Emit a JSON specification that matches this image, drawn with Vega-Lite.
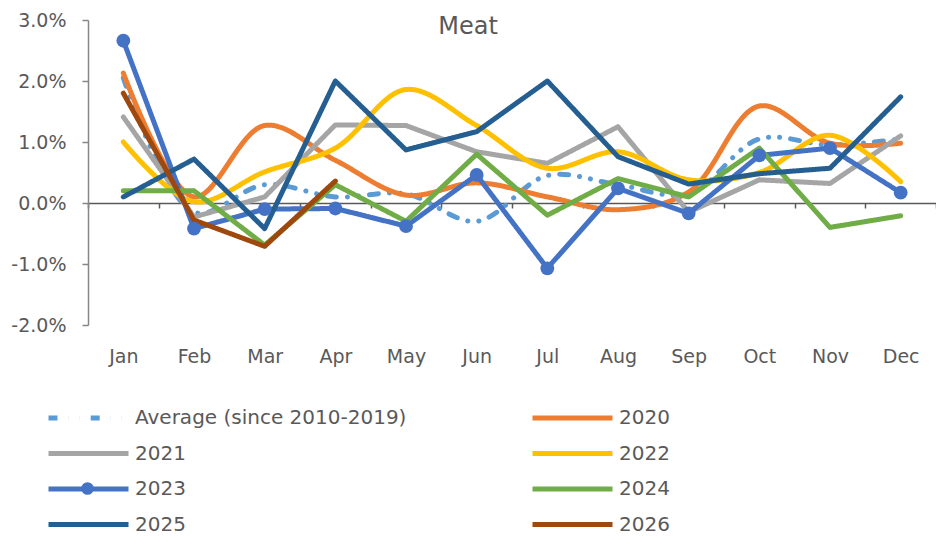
{
  "$schema": "https://vega.github.io/schema/vega-lite/v6.json",
  "width": 848,
  "height": 305,
  "autosize": {"type": "none"},
  "padding": {"left": 88, "top": 20, "right": 0, "bottom": 212},
  "background": "white",
  "title": {"text": "Meat", "fontSize": 24, "font": "DejaVu Sans", "color": "#595959", "fontWeight": "normal", "anchor": "middle", "dx": -44, "baseline": "alphabetic", "offset": -47},
  "config": {"view": {"stroke": null}, "font": "DejaVu Sans"},
  "data": {"values": [
    {"m":"Jan","s":"Average (since 2010-2019)","v":2.05},{"m":"Feb","s":"Average (since 2010-2019)","v":-0.15},{"m":"Mar","s":"Average (since 2010-2019)","v":0.3},{"m":"Apr","s":"Average (since 2010-2019)","v":0.1},{"m":"May","s":"Average (since 2010-2019)","v":0.15},{"m":"Jun","s":"Average (since 2010-2019)","v":-0.3},{"m":"Jul","s":"Average (since 2010-2019)","v":0.45},{"m":"Aug","s":"Average (since 2010-2019)","v":0.3},{"m":"Sep","s":"Average (since 2010-2019)","v":0.15},{"m":"Oct","s":"Average (since 2010-2019)","v":1.05},{"m":"Nov","s":"Average (since 2010-2019)","v":0.95},{"m":"Dec","s":"Average (since 2010-2019)","v":1.05},
    {"m":"Jan","s":"2020","v":2.13},{"m":"Feb","s":"2020","v":0.1},{"m":"Mar","s":"2020","v":1.27},{"m":"Apr","s":"2020","v":0.7},{"m":"May","s":"2020","v":0.13},{"m":"Jun","s":"2020","v":0.33},{"m":"Jul","s":"2020","v":0.1},{"m":"Aug","s":"2020","v":-0.11},{"m":"Sep","s":"2020","v":0.18},{"m":"Oct","s":"2020","v":1.59},{"m":"Nov","s":"2020","v":0.98},{"m":"Dec","s":"2020","v":0.98},
    {"m":"Jan","s":"2021","v":1.41},{"m":"Feb","s":"2021","v":-0.23},{"m":"Mar","s":"2021","v":0.1},{"m":"Apr","s":"2021","v":1.28},{"m":"May","s":"2021","v":1.27},{"m":"Jun","s":"2021","v":0.84},{"m":"Jul","s":"2021","v":0.65},{"m":"Aug","s":"2021","v":1.25},{"m":"Sep","s":"2021","v":-0.15},{"m":"Oct","s":"2021","v":0.38},{"m":"Nov","s":"2021","v":0.32},{"m":"Dec","s":"2021","v":1.1},
    {"m":"Jan","s":"2022","v":1.0},{"m":"Feb","s":"2022","v":0.02},{"m":"Mar","s":"2022","v":0.51},{"m":"Apr","s":"2022","v":0.9},{"m":"May","s":"2022","v":1.86},{"m":"Jun","s":"2022","v":1.27},{"m":"Jul","s":"2022","v":0.57},{"m":"Aug","s":"2022","v":0.84},{"m":"Sep","s":"2022","v":0.38},{"m":"Oct","s":"2022","v":0.5},{"m":"Nov","s":"2022","v":1.11},{"m":"Dec","s":"2022","v":0.35},
    {"m":"Jan","s":"2023","v":2.66},{"m":"Feb","s":"2023","v":-0.42},{"m":"Mar","s":"2023","v":-0.1},{"m":"Apr","s":"2023","v":-0.09},{"m":"May","s":"2023","v":-0.38},{"m":"Jun","s":"2023","v":0.46},{"m":"Jul","s":"2023","v":-1.07},{"m":"Aug","s":"2023","v":0.24},{"m":"Sep","s":"2023","v":-0.17},{"m":"Oct","s":"2023","v":0.78},{"m":"Nov","s":"2023","v":0.9},{"m":"Dec","s":"2023","v":0.17},
    {"m":"Jan","s":"2024","v":0.2},{"m":"Feb","s":"2024","v":0.2},{"m":"Mar","s":"2024","v":-0.69},{"m":"Apr","s":"2024","v":0.3},{"m":"May","s":"2024","v":-0.3},{"m":"Jun","s":"2024","v":0.8},{"m":"Jul","s":"2024","v":-0.2},{"m":"Aug","s":"2024","v":0.4},{"m":"Sep","s":"2024","v":0.1},{"m":"Oct","s":"2024","v":0.9},{"m":"Nov","s":"2024","v":-0.4},{"m":"Dec","s":"2024","v":-0.21},
    {"m":"Jan","s":"2025","v":0.1},{"m":"Feb","s":"2025","v":0.72},{"m":"Mar","s":"2025","v":-0.42},{"m":"Apr","s":"2025","v":2.0},{"m":"May","s":"2025","v":0.87},{"m":"Jun","s":"2025","v":1.17},{"m":"Jul","s":"2025","v":2.0},{"m":"Aug","s":"2025","v":0.76},{"m":"Sep","s":"2025","v":0.31},{"m":"Oct","s":"2025","v":0.48},{"m":"Nov","s":"2025","v":0.57},{"m":"Dec","s":"2025","v":1.74},
    {"m":"Jan","s":"2026","v":1.8},{"m":"Feb","s":"2026","v":-0.28},{"m":"Mar","s":"2026","v":-0.71},{"m":"Apr","s":"2026","v":0.36}
  ]},
  "encoding": {
    "x": {"field": "m", "type": "ordinal", "sort": ["Jan","Feb","Mar","Apr","May","Jun","Jul","Aug","Sep","Oct","Nov","Dec"],
      "scale": {"type": "band", "paddingInner": 0, "paddingOuter": 0},
      "axis": {"title": null, "orient": "bottom", "offset": -122, "tickBand": "extent", "tickSize": 5, "labelPadding": 139, "labelAngle": 0, "domainColor": "#595959", "tickColor": "#595959", "domainWidth": 1.5, "tickWidth": 1.5, "labelFontSize": 19, "labelColor": "#595959", "labelFont": "DejaVu Sans"}},
    "y": {"field": "v", "type": "quantitative", "scale": {"domain": [-2, 3], "nice": false, "zero": false},
      "axis": {"title": null, "values": [-2,-1,0,1,2,3], "labelExpr": "(datum.value < 0 ? '-' : '') + format(abs(datum.value),'.1f') + '%'", "grid": false, "domainColor": "#868686", "tickColor": "#868686", "domainWidth": 1.5, "tickWidth": 1.5, "tickSize": 6, "labelPadding": 16, "labelFontSize": 19, "labelColor": "#595959", "labelFont": "DejaVu Sans"}}
  },
  "layer": [
    {
      "transform": [{"filter": {"field": "s", "oneOf": ["Average (since 2010-2019)", "2020"]}}],
      "mark": {"type": "line", "interpolate": "catmull-rom", "strokeWidth": 5, "strokeCap": "round", "strokeJoin": "round"},
      "encoding": {
        "color": {"field": "s", "type": "nominal",
          "scale": {"domain": ["Average (since 2010-2019)","2020","2021","2022","2023","2024","2025","2026"], "range": ["#5B9BD5","#ED7D31","#A5A5A5","#FFC000","#4472C4","#70AD47","#255E91","#9E480E"]},
          "legend": {"title": null, "orient": "none", "direction": "horizontal", "legendX": -42, "legendY": 388, "columns": 2, "columnPadding": 123, "rowPadding": 15.5, "clipHeight": 20, "padding": 0, "symbolType": "stroke", "symbolSize": 6400, "symbolStrokeWidth": 5, "labelFontSize": 20, "labelColor": "#595959", "labelFont": "DejaVu Sans", "labelOffset": 4, "labelLimit": 400}},
        "strokeDash": {"field": "s", "type": "nominal",
          "scale": {"domain": ["Average (since 2010-2019)","2020","2021","2022","2023","2024","2025","2026"], "range": [[9,11,0.1,11,0.1,11],[1,0],[1,0],[1,0],[1,0],[1,0],[1,0],[1,0]]},
          "legend": {"title": null, "orient": "none", "direction": "horizontal", "legendX": -42, "legendY": 388, "columns": 2, "columnPadding": 123, "rowPadding": 15.5, "clipHeight": 20, "padding": 0, "symbolType": "stroke", "symbolSize": 6400, "symbolStrokeWidth": 5, "labelFontSize": 20, "labelColor": "#595959", "labelFont": "DejaVu Sans", "labelOffset": 4, "labelLimit": 400}}
      }
    },
    {
      "transform": [{"filter": {"field": "s", "equal": "2021"}}],
      "mark": {"type": "line", "strokeWidth": 5, "strokeCap": "round", "strokeJoin": "round"},
      "encoding": {"color": {"field": "s", "type": "nominal"}, "strokeDash": {"field": "s", "type": "nominal"}}
    },
    {
      "transform": [{"filter": {"field": "s", "equal": "2022"}}],
      "mark": {"type": "line", "interpolate": "catmull-rom", "strokeWidth": 5, "strokeCap": "round", "strokeJoin": "round"},
      "encoding": {"color": {"field": "s", "type": "nominal"}, "strokeDash": {"field": "s", "type": "nominal"}}
    },
    {
      "transform": [{"filter": {"field": "s", "oneOf": ["2023", "2024", "2025", "2026"]}}],
      "mark": {"type": "line", "strokeWidth": 5, "strokeCap": "round", "strokeJoin": "round"},
      "encoding": {"color": {"field": "s", "type": "nominal"}, "strokeDash": {"field": "s", "type": "nominal"}}
    },
    {
      "transform": [{"filter": {"field": "s", "equal": "2023"}}],
      "mark": {"type": "point", "filled": true, "size": 190, "opacity": 1, "color": "#4472C4"},
      "encoding": {
        "shape": {"field": "s", "type": "nominal", "scale": {"domain": ["2023"], "range": ["circle"]},
          "legend": {"title": null, "orient": "none", "legendX": -7, "legendY": 462, "padding": 0, "symbolSize": 160, "symbolStrokeWidth": 0, "symbolFillColor": "#4472C4", "symbolOpacity": 1, "labelExpr": "''", "labelFontSize": 1, "labelOffset": 0}}
      }
    }
  ]
}
